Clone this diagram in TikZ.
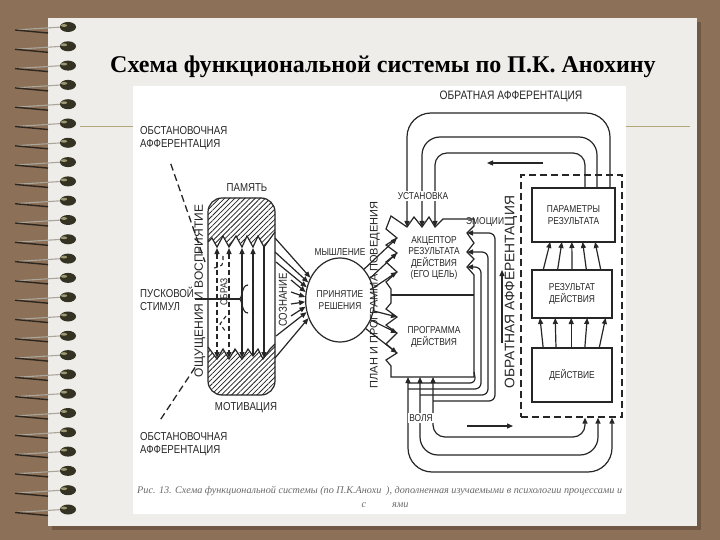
\documentclass[tikz,border=0pt]{standalone}
\usepackage{fontspec}
\setmainfont{Liberation Serif}
\newfontfamily\lblfont[FakeStretch=0.84]{Liberation Sans}
\newfontfamily\plainfont{Liberation Sans}
\usepackage{tikz}
\usetikzlibrary{arrows.meta, positioning, calc, patterns, patterns.meta, shapes.geometric}
\definecolor{mybrown}{RGB}{140,112,88}
\definecolor{myshade}{RGB}{112,88,68}
\definecolor{mypage}{RGB}{239,237,233}
\definecolor{myolive}{RGB}{178,168,124}
\definecolor{myink}{RGB}{38,38,38}
\definecolor{mybead}{RGB}{52,50,34}
\definecolor{mybeadhi}{RGB}{158,152,112}
\definecolor{mywire}{RGB}{170,166,156}
\definecolor{mywiredk}{RGB}{45,38,30}
\definecolor{mycapt}{RGB}{105,105,105}
\tikzset{
  lbl/.style={font=\lblfont\fontsize{11.5}{13}\selectfont, text=myink, inner sep=1pt, align=center},
  vlbl/.style={font=\plainfont\fontsize{12}{13}\selectfont, text=myink, inner sep=1pt, rotate=90},
  boxtext/.style={font=\lblfont\fontsize{10}{11.5}\selectfont, text=myink, inner sep=1pt, align=center},
  stagebox/.style={rectangle, draw=myink, line width=1.2pt, fill=white, inner sep=0pt, outer sep=0pt, boxtext},
  wire/.style={draw=myink, line width=1.2pt},
  arrow/.style={-{Triangle[length=6pt,width=5pt]}, line width=1.2pt, color=myink},
  twoway/.style={{Triangle[length=6pt,width=5pt]}-{Triangle[length=6pt,width=5pt]}, line width=1.2pt, color=myink},
  dashline/.style={draw=myink, line width=1.3pt, dash pattern=on 7pt off 4pt},
  hatch/.style={pattern={Lines[angle=45,distance=3.6pt,line width=0.8pt]}, pattern color=myink},
  capt/.style={font=\itshape\fontsize{10.2}{11}\selectfont, text=mycapt, inner sep=0pt}
}

\begin{document}
\begin{tikzpicture}[x=1pt, y=-1pt]
  \useasboundingbox (0,0) rectangle (720,540);
  % Background and page
  \fill[mybrown] (0,0) rectangle (720,540);
  \fill[myshade] (52,22) rectangle (701,530);
  \fill[mypage] (48,18) rectangle (697,526);
  \draw[myolive, line width=1pt] (80,127) -- (690,127);

  % Spiral binding
  \foreach \i in {0,...,25} {
    \pgfmathsetmacro{\yy}{27+19.3*\i}
    \draw[mywire, line width=1.1pt] (62,\yy) -- (15,\yy+3);
    \draw[mywiredk, line width=1.4pt] (15,\yy+3) -- (48,\yy+6);
    \fill[mybead] (68,\yy) ellipse (8 and 5);
    \fill[mybeadhi] (64,\yy-1.5) ellipse (3.2 and 1.4);
  }

  % Title
  \node[font=\bfseries\fontsize{24}{28}\selectfont] (title) at (383,67) {Схема функциональной системы по П.К. Анохину};

  % Scanned figure
  \fill[white] (133,86) rectangle (626,514);

  % Environment afferentation
  \node[lbl, anchor=west, align=left] (envTop) at (139,138) {ОБСТАНОВОЧНАЯ\\АФФЕРЕНТАЦИЯ};
  \node[lbl, anchor=west, align=left] (envBot) at (139,444) {ОБСТАНОВОЧНАЯ\\АФФЕРЕНТАЦИЯ};
  \coordinate (envInTop) at (205,262);
  \coordinate (envInBot) at (196,366);
  \draw[dashline] ($(envTop.south)+(-13,13)$) -- (envInTop);
  \draw[dashline] ($(envBot.north)+(-23,-12)$) -- (envInBot);

  % Memory / motivation block
  \begin{scope}
    \clip[rounded corners=14pt] (208,198) rectangle (275,395);
    \fill[hatch] (200,190) -- (283,190) -- (283,232) -- (275,232) -- (264,247) -- (258,236) -- (253,247) -- (247,236) -- (242,247) -- (236,236) -- (229,247) -- (223,236) -- (217,247) -- (212,238) -- (208,242) -- (200,242) -- cycle;
    \fill[hatch] (200,347) -- (208,347) -- (217,359) -- (223,349) -- (229,359) -- (235,349) -- (242,359) -- (248,349) -- (253,356) -- (258,349) -- (263,359) -- (270,349) -- (275,344) -- (283,344) -- (283,403) -- (200,403) -- cycle;
  \end{scope}
  \draw[wire] (275,232) -- (264,247) -- (258,236) -- (253,247) -- (247,236) -- (242,247) -- (236,236) -- (229,247) -- (223,236) -- (217,247) -- (212,238) -- (208,242);
  \draw[wire] (208,347) -- (217,359) -- (223,349) -- (229,359) -- (235,349) -- (242,359) -- (248,349) -- (253,356) -- (258,349) -- (263,359) -- (270,349) -- (275,344);
  \draw[wire, rounded corners=14pt] (208,198) rectangle (275,395);
  \node[lbl] (mem) at (247,188) {ПАМЯТЬ};
  \node[lbl] (motiv) at (246,408) {МОТИВАЦИЯ};
  \node[vlbl] (sens) at (200,291) {ОЩУЩЕНИЯ И ВОСПРИЯТИЕ};

  % Arrows inside the block
  \draw[twoway, dash pattern=on 5pt off 3pt] (217,248) -- (217,358);
  \draw[twoway, dash pattern=on 5pt off 3pt] (229,248) -- (229,358);
  \draw[twoway] (242,248) -- (242,358);
  \draw[arrow] (253,355) -- (253,248);
  \draw[arrow] (264,247) -- (264,358);
  \draw[myink, line width=1.1pt, dash pattern=on 4pt off 3pt] (223,256) .. controls (223,266) .. (214,268);
  \draw[myink, line width=1.1pt, dash pattern=on 4pt off 3pt] (226,316) -- (220,324) -- (226,332);
  \node[boxtext, rotate=90, fill=white, inner sep=0.5pt] (image) at (224,292) {ОБРАЗ};

  % Trigger stimulus
  \node[lbl, anchor=west, align=left] (stim) at (139,299) {ПУСКОВОЙ\\СТИМУЛ};
  \coordinate (brace) at (239,299);
  \draw[wire] (stim.east) -- (brace);
  \draw[wire] (248,285) .. controls (241,285) and (243,299) .. (brace) .. controls (243,299) and (241,313) .. (248,313);

  % Decision making
  \node[ellipse, draw=myink, line width=1.2pt, minimum width=50pt, minimum height=84pt, inner sep=0pt, boxtext] (dec) at (340,300) {ПРИНЯТИЕ\\РЕШЕНИЯ};
  \node[boxtext] (think) at (340,252) {МЫШЛЕНИЕ};
  \node[lbl, rotate=90] (aware) at (283,300) {СОЗНАНИЕ};
  \foreach \sx/\sy/\ang in {275/238/143, 275/252/151, 276/262/159, 291/280/167, 291/292/175, 291/304/183, 291/316/191, 276/336/200, 275/358/210}
    \draw[arrow] (\sx,\sy) -- (dec.\ang);

  % Acceptor and programme
  \draw[wire, fill=white] (391,216) -- (407,227) coordinate (nT1) -- (414,217) -- (422,227) coordinate (nT2) -- (429,217) -- (435,227) coordinate (nT3) -- (443,219) -- (474,219) -- (474,226) -- (467,233) coordinate (nR1) -- (474,243) -- (467,252) coordinate (nR2) -- (474,259) -- (467,267) coordinate (nR3) -- (474,275) -- (474,377) -- (391,377) -- (391,366) -- (386,360) -- (397,353) coordinate (nL6) -- (386,344) -- (397,333) coordinate (nL5) -- (386,325) -- (397,317) coordinate (nL4) -- (386,309) -- (391,303) -- (391,289) -- (386,282) -- (397,272) coordinate (nL3) -- (386,262) -- (397,253) coordinate (nL2) -- (386,245) -- (397,238) coordinate (nL1) -- (386,229) -- cycle;
  \draw[wire] (391,295) -- (474,295);
  \node[boxtext] (acc) at (434,258) {АКЦЕПТОР\\РЕЗУЛЬТАТА\\ДЕЙСТВИЯ\\(ЕГО ЦЕЛЬ)};
  \node[boxtext] (prog) at (434,337) {ПРОГРАММА\\ДЕЙСТВИЯ};
  \node[vlbl, font=\plainfont\fontsize{11}{12}\selectfont] (plan) at (375,295) {ПЛАН И ПРОГРАММА ПОВЕДЕНИЯ};
  \foreach \ang/\n in {52/nL1, 36/nL2, 20/nL3, -18/nL4, -33/nL5, -48/nL6}
    \draw[arrow] (dec.\ang) -- (\n);

  % Result side
  \node[draw=myink, line width=1.3pt, dash pattern=on 7pt off 4pt, minimum width=101pt, minimum height=242pt, inner sep=0pt] (fbox) at (571.5,296) {};
  \node[stagebox, minimum width=83pt, minimum height=54pt] (param) at (573.5,215) {ПАРАМЕТРЫ\\РЕЗУЛЬТАТА};
  \node[stagebox, minimum width=80pt, minimum height=48pt] (res) at (572,294) {РЕЗУЛЬТАТ\\ДЕЙСТВИЯ};
  \node[stagebox, minimum width=80pt, minimum height=54pt] (act) at (572,375) {ДЕЙСТВИЕ};
  \foreach \a/\b in {0.14/0.22, 0.32/0.36, 0.5/0.48, 0.68/0.61, 0.86/0.76}
    \draw[arrow] ($(res.north west)!\a!(res.north east)$) -- ($(param.south west)!\b!(param.south east)$);
  \foreach \a/\b in {0.14/0.1, 0.3/0.29, 0.49/0.49, 0.66/0.69, 0.84/0.92}
    \draw[arrow] ($(act.north west)!\a!(act.north east)$) -- ($(res.south west)!\b!(res.south east)$);

  % Feedback loops (top)
  \coordinate (topA) at (610,113);
  \coordinate (topB) at (597,137);
  \coordinate (topC) at (585,153);
  \draw[arrow, rounded corners=24pt] (param.north -| topA) -- (topA) -- (topA -| nT1) -- (nT1);
  \draw[arrow, rounded corners=18pt] (param.north -| topB) -- (topB) -- (topB -| nT2) -- (nT2);
  \draw[arrow, rounded corners=12pt] (param.north -| topC) -- (topC) -- (topC -| nT3) -- (nT3);
  \coordinate (backR) at (543,163);
  \coordinate (backL) at (487,163);
  \draw[arrow] (backR) -- (backL);
  \node[boxtext, fill=white, inner sep=1.5pt] (set) at (423,196) {УСТАНОВКА};
  \node[lbl, font=\lblfont\fontsize{12.2}{13}\selectfont] (fbtop) at (511,96) {ОБРАТНАЯ АФФЕРЕНТАЦИЯ};

  % Feedback loops (bottom)
  \coordinate (bB1) at (408,377);
  \coordinate (bB2) at (420,377);
  \coordinate (bB3) at (433,377);
  \coordinate (botA) at (612,472);
  \coordinate (botB) at (598,455);
  \coordinate (botC) at (585,437);
  \draw[twoway, rounded corners=24pt] (bB1) -- (bB1 |- botA) -- (botA) -- (fbox.south -| botA);
  \draw[twoway, rounded corners=18pt] (bB2) -- (bB2 |- botB) -- (botB) -- (fbox.south -| botB);
  \draw[twoway, rounded corners=12pt] (bB3) -- (bB3 |- botC) -- (botC) -- (fbox.south -| botC);
  \coordinate (fwdL) at (467,426);
  \coordinate (fwdR) at (513,426);
  \draw[arrow] (fwdL) -- (fwdR);

  % Copies back to the acceptor
  \draw[wire, rounded corners=6pt] (408,383) -- (476,383) -- (474,372);
  \draw[arrow, rounded corners=6pt] (408,389) -- (481,389) -- (481,267) -- (nR3);
  \draw[arrow, rounded corners=6pt] (420,395) -- (488,395) -- (488,252) -- (nR2);
  \draw[arrow, rounded corners=6pt] (433,401) -- (495,401) -- (495,233) -- (nR1);
  \node[boxtext, fill=white, inner sep=1pt] (will) at (421,418) {ВОЛЯ};
  \node[boxtext, anchor=west] (emo) at (465,222) {ЭМОЦИИ};
  \coordinate (upB) at (502,343);
  \coordinate (upT) at (502,270);
  \draw[arrow] (upB) -- (upT);
  \node[vlbl, font=\plainfont\fontsize{13.8}{14}\selectfont] (fbside) at (511,292) {ОБРАТНАЯ АФФЕРЕНТАЦИЯ};

  % Caption
  \node[capt, anchor=west] (cap1) at (137,491) {Рис. 13. Схема функциональной системы (по П.К.Анохи};
  \node[capt, anchor=west] (cap2) at (386,491) {), дополненная изучаемыми в психологии процессами и};
  \node[capt] (cap3) at (364,505) {с};
  \node[capt, anchor=west] (cap4) at (392,505) {ями};
\end{tikzpicture}
\end{document}
